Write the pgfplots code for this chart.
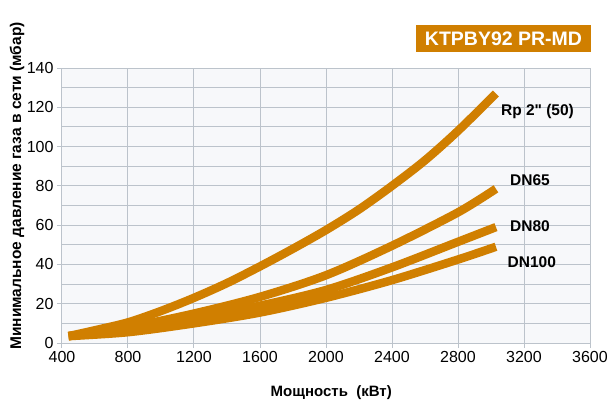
\documentclass[border=0pt]{standalone}
\usepackage{fontspec}
\setmainfont{Liberation Sans}
\newfontfamily\rawfont{Liberation Sans}[Ligatures=TeXOff]
\usepackage{pgfplots}
\pgfplotsset{compat=1.18}
\definecolor{curve}{HTML}{D07F00}
\definecolor{gridc}{HTML}{BCC3CB}
\definecolor{bgc}{HTML}{F7F8FA}
\begin{document}
\begin{tikzpicture}
\begin{axis}[
  scale only axis, width=528pt, height=275pt,
  xmin=400, xmax=3600, ymin=0, ymax=140,
  xtick={400,800,...,3600}, ytick={0,20,...,140},
  minor ytick={10,30,...,130},
  grid=both, major grid style={gridc, line width=1pt}, minor grid style={gridc, line width=1pt},
  axis background/.style={fill=bgc},
  axis line style={gridc, line width=1pt},
  tick style={gridc, line width=1pt}, major tick length=5pt, minor tick length=0pt,
  tick align=outside, axis x line*=bottom, axis y line*=left,
  /pgf/number format/assume math mode=true,
  /pgf/number format/1000 sep={},
  tick label style={font=\fontsize{16pt}{18pt}\selectfont, text=black},
  xlabel={\textbf{Мощность\ \ (кВт)}}, ylabel={\textbf{Минимальное давление газа в сети (мбар)}},
  xlabel style={font=\fontsize{15pt}{17pt}\selectfont, at={(axis description cs:0.51,-0.182)}, anchor=center},
  ylabel style={font=\fontsize{15.5pt}{17pt}\selectfont, at={(axis description cs:-0.085,0.571)}, anchor=center},
  clip=false,
]
\addplot[curve, line width=8.5pt, smooth, mark=none] coordinates {(440,3.5)(600,6.5)(800,10.5)(1000,16.3)(1200,23)(1400,30.5)(1600,39)(1800,48)(2000,57.5)(2200,68)(2400,80)(2600,93)(2800,108)(3030,127)};
\addplot[curve, line width=8.5pt, smooth, mark=none] coordinates {(440,3.5)(800,8)(1200,15)(1600,23.5)(2000,34.5)(2400,49.5)(2800,66.5)(3030,78.5)};
\addplot[curve, line width=8.5pt, smooth, mark=none] coordinates {(440,3.5)(800,7)(1200,12.5)(1600,19)(2000,27)(2400,38.5)(2800,51.5)(3030,59)};
\addplot[curve, line width=8.5pt, smooth, mark=none] coordinates {(440,3.5)(800,5.5)(1200,10)(1600,15.5)(2000,23)(2400,32)(2800,42.5)(3030,49)};
\node[anchor=west, inner sep=0pt, font=\rawfont\bfseries\fontsize{15.5pt}{17pt}\selectfont] at (axis cs:3060,118) {Rp 2" (50)};
\node[anchor=west, inner sep=0pt, font=\bfseries\fontsize{15.5pt}{17pt}\selectfont] at (axis cs:3115,83) {DN65};
\node[anchor=west, inner sep=0pt, font=\bfseries\fontsize{15.5pt}{17pt}\selectfont] at (axis cs:3115,59.5) {DN80};
\node[anchor=west, inner sep=0pt, font=\bfseries\fontsize{15.5pt}{17pt}\selectfont] at (axis cs:3100,41) {DN100};
\end{axis}
\path (current axis.south west) ++(-62pt,-62pt) rectangle ++(613pt,405pt);
\node[fill=curve, text=white, font=\bfseries\fontsize{19.5pt}{21pt}\selectfont, minimum width=175pt, minimum height=27pt, inner sep=0pt] at ([shift={(441.5pt,304.5pt)}]current axis.south west) {KTPBY92 PR-MD};
\end{tikzpicture}
\end{document}
